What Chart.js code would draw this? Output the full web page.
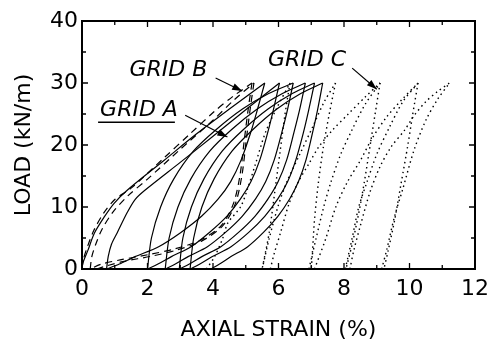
<!DOCTYPE html>
<html>
<head>
<meta charset="utf-8">
<script src="https://cdn.jsdelivr.net/npm/chart.js@4.4.1/dist/chart.umd.min.js"></script>
<style>
  html, body { margin: 0; padding: 0; background: #fff; }
</style>
</head>
<body>
<canvas id="strainChart" width="496" height="339"></canvas>
<script>
// axes
const strainRange = [0, 12];
const loadRange = [0, 40];

// GRID A (solid) - each branch is [strain %, load kN/m]
const gridA = [
  [[0,0],[0.03,1],[0.18,3],[0.38,5.8],[0.68,8.4],[0.98,10.6],[1.38,12.7],[2.5,17.5],[3.5,21.8],[4.5,25.8],[5.58,30]],
  [[5.58,30],[5.35,25.6],[5.15,22],[4.86,17.6],[4.54,14.1],[4.16,11.3],[3.65,8.5],[3.02,5.9],[2.34,3.6],[1.62,2],[1.14,0.8],[0.75,0]],
  [[0.75,0],[0.8,2],[0.9,4],[1.08,5.9],[1.38,9.1],[1.62,11.2],[1.92,12.7],[3,17.2],[4,21.4],[5,25.7],[6.03,30]],
  [[6.03,30],[5.84,25.6],[5.67,22],[5.43,17.6],[5.16,14.1],[4.84,11.3],[4.42,8.5],[3.89,5.9],[3.33,3.6],[2.73,2],[2.32,0.8],[2.0,0]],
  [[2.0,0],[2.12,5],[2.4,10],[2.8,14.5],[3.4,19],[4.1,22.5],[4.9,25.8],[5.7,28.3],[6.45,30]],
  [[6.45,30],[6.27,25.6],[6.1,22],[5.87,17.6],[5.61,14.1],[5.3,11.3],[4.89,8.5],[4.38,5.9],[3.83,3.6],[3.24,2],[2.85,0.8],[2.54,0]],
  [[2.54,0],[2.66,5],[2.93,10],[3.32,14.5],[3.9,19],[4.57,22.5],[5.35,25.8],[6.12,28.3],[6.82,30]],
  [[6.82,30],[6.64,25.6],[6.47,22],[6.25,17.6],[5.99,14.1],[5.68,11.3],[5.28,8.5],[4.78,5.9],[4.24,3.6],[3.66,2],[3.28,0.8],[2.97,0]],
  [[2.97,0],[3.08,5],[3.34,10],[3.72,14.5],[4.28,19],[4.93,22.5],[5.68,25.8],[6.42,28.3],[7.1,30]],
  [[7.1,30],[6.92,25.6],[6.76,22],[6.53,17.6],[6.28,14.1],[5.98,11.3],[5.58,8.5],[5.09,5.9],[4.55,3.6],[3.98,2],[3.6,0.8],[3.3,0]],
  [[3.3,0],[3.41,5],[3.66,10],[4.03,14.5],[4.58,19],[5.22,22.5],[5.95,25.8],[6.68,28.3],[7.35,30]],
  [[7.35,30],[7.19,25.6],[7.04,22],[6.84,17.6],[6.61,14.1],[6.34,11.3],[5.98,8.5],[5.54,5.9],[5.06,3.6],[4.55,2],[4.2,0.8],[3.93,0]]
];

// GRID B (dashed)
const gridB = [
  [[0,0],[0.04,1.5],[0.16,3.5],[0.36,6.2],[0.66,9],[1.0,11.2],[1.49,13],[2.5,17.9],[3.3,21.8],[4.04,25.4],[4.6,27.8],[5.19,30]],
  [[5.19,30],[5.08,26],[4.96,21],[4.82,15],[4.62,10.5],[4.25,7],[3.6,4.6],[2.8,3.2],[2.1,2.4],[1.2,1.5],[0.6,0.8],[0.25,0]],
  [[0.25,0],[0.3,2],[0.42,4],[0.62,6.5],[0.95,9.2],[1.4,11.8],[2.0,14.5],[3.0,19.3],[4.0,24],[4.65,27.3],[5.25,30]],
  [[5.25,30],[5.14,26],[5.02,21],[4.88,15],[4.68,10.5],[4.3,7],[3.65,4.5],[2.85,3.0],[2.15,2.1],[1.25,1.2],[0.75,0.5],[0.45,0]]
];

// GRID C (dotted)
const gridC = [
  [[3.8,0],[4.05,2],[4.3,5],[4.45,7.4],[4.84,10],[5.04,12.7],[5.3,17],[5.6,22],[5.95,26],[6.35,30]],
  [[6.35,30],[6.2,25],[6.05,19],[5.9,13],[5.72,6],[5.5,0]],
  [[5.5,0],[5.72,5],[5.98,10],[6.25,14],[6.65,18.5],[7.05,23],[7.4,27],[7.74,30]],
  [[7.74,30],[7.55,25],[7.38,20],[7.22,14],[7.1,8],[7.04,3],[7.0,0]],
  [[5.75,0],[5.87,2.5],[6.07,6],[6.32,10.5],[6.6,14],[6.93,17],[7.23,19.7],[7.65,22.4],[8.13,25],[8.64,27.7],[9.1,30]],
  [[6.93,0],[7.15,5],[7.38,10],[7.6,14],[7.9,18.5],[8.25,22.5],[8.64,26.5],[9.1,30]],
  [[9.1,30],[8.95,25],[8.8,20],[8.62,14],[8.45,9],[8.25,4],[8.06,0]],
  [[7.1,0],[7.45,5],[7.75,10],[8.1,14],[8.5,17.5],[8.85,21],[9.3,24.5],[9.8,27.5],[10.26,30]],
  [[8.04,0],[8.25,5],[8.45,10],[8.7,14],[9.0,18.5],[9.4,23],[9.8,27],[10.26,30]],
  [[10.26,30],[10.1,25],[9.95,20],[9.75,14],[9.55,8],[9.35,3],[9.22,0]],
  [[8.18,0],[8.3,3],[8.5,7],[8.8,12.5],[9.1,16.5],[9.44,19.7],[9.85,22.4],[10.15,24.8],[10.5,27],[10.85,28.6],[11.22,30]],
  [[9.15,0],[9.3,3],[9.54,8.4],[9.8,13],[10.14,19.2],[10.5,24],[10.85,27.3],[11.22,30]]
];

// labels: [text, strain, load]
const gridLabels = [['GRID B', 2.64, 32.0], ['GRID A', 1.74, 25.6], ['GRID C', 6.87, 33.6]];
// arrows: [fromStrain, fromLoad, toStrain, toLoad]
const gridArrows = [[4.08, 30.8, 4.89, 28.7], [3.15, 24.8, 4.44, 21.3], [8.25, 32.4, 9.0, 29.0]];

const FONT = "'DejaVu Sans', 'Liberation Sans', Arial, sans-serif";

function branchSets(branches, dash, width) {
  return branches.map(b => ({
    data: b.map(p => ({x: p[0], y: p[1]})),
    showLine: true,
    borderColor: '#000',
    borderWidth: width,
    borderDash: dash,
    pointRadius: 0,
    tension: 0.3,
    fill: false
  }));
}

// frame, inward ticks, labels and arrows
const framePlugin = {
  id: 'framePlugin',
  afterDatasetsDraw(chart) {
    const {ctx, chartArea: a, scales: {x, y}} = chart;
    ctx.save();
    ctx.strokeStyle = '#000';
    ctx.fillStyle = '#000';
    ctx.lineWidth = 1.3;
    for (let v = strainRange[0]; v <= strainRange[1]; v++) {
      const px = x.getPixelForValue(v);
      const len = v % 2 === 0 ? 6 : 4;
      ctx.beginPath();
      ctx.moveTo(px, a.bottom); ctx.lineTo(px, a.bottom - len);
      ctx.moveTo(px, a.top); ctx.lineTo(px, a.top + len);
      ctx.stroke();
    }
    for (let v = loadRange[0]; v <= loadRange[1]; v += 5) {
      const py = y.getPixelForValue(v);
      const len = v % 10 === 0 ? 6 : 4;
      ctx.beginPath();
      ctx.moveTo(a.left, py); ctx.lineTo(a.left + len, py);
      ctx.moveTo(a.right, py); ctx.lineTo(a.right - len, py);
      ctx.stroke();
    }
    ctx.lineWidth = 2;
    ctx.strokeRect(a.left, a.top, a.right - a.left, a.bottom - a.top);

    // labels
    ctx.font = 'italic 22px ' + FONT;
    ctx.textAlign = 'center';
    ctx.textBaseline = 'middle';
    gridLabels.forEach(l => {
      const px = x.getPixelForValue(l[1]);
      const py = y.getPixelForValue(l[2]);
      ctx.fillText(l[0], px, py);
      if (l[0] === 'GRID A') {
        const w = ctx.measureText(l[0]).width;
        ctx.lineWidth = 1.6;
        ctx.beginPath();
        ctx.moveTo(px - w / 2 - 2, py + 12);
        ctx.lineTo(px + w / 2 - 3, py + 12);
        ctx.stroke();
      }
    });

    // arrows
    ctx.lineWidth = 1.2;
    gridArrows.forEach(r => {
      const x1 = x.getPixelForValue(r[0]), y1 = y.getPixelForValue(r[1]);
      const x2 = x.getPixelForValue(r[2]), y2 = y.getPixelForValue(r[3]);
      const ang = Math.atan2(y2 - y1, x2 - x1);
      ctx.beginPath();
      ctx.moveTo(x1, y1); ctx.lineTo(x2, y2);
      ctx.stroke();
      ctx.beginPath();
      ctx.moveTo(x2, y2);
      ctx.lineTo(x2 - 10 * Math.cos(ang) + 3.5 * Math.sin(ang), y2 - 10 * Math.sin(ang) - 3.5 * Math.cos(ang));
      ctx.lineTo(x2 - 10 * Math.cos(ang) - 3.5 * Math.sin(ang), y2 - 10 * Math.sin(ang) + 3.5 * Math.cos(ang));
      ctx.closePath();
      ctx.fill();
    });
    ctx.restore();
  }
};

const ctx = document.getElementById('strainChart').getContext('2d');
const strainChart = new Chart(ctx, {
  type: 'scatter',
  data: {
    datasets: [
      ...branchSets(gridA, [], 1.2),
      ...branchSets(gridB, [7, 5], 1.2),
      ...branchSets(gridC, [1.5, 3.5], 1.4)
    ]
  },
  options: {
    responsive: false,
    animation: false,
    devicePixelRatio: 1,
    layout: { padding: { top: 21, right: 14, left: 0, bottom: 0 } },
    plugins: { legend: { display: false }, tooltip: { enabled: false } },
    scales: {
      x: {
        type: 'linear',
        min: strainRange[0],
        max: strainRange[1],
        ticks: { stepSize: 2, color: '#000', padding: 7, font: { size: 22, family: FONT } },
        grid: { display: false, drawTicks: false },
        border: { display: false },
        title: { display: true, text: 'AXIAL STRAIN (%)', color: '#000',
                 font: { size: 22, family: FONT, lineHeight: 0.8 }, padding: { top: 0, bottom: 0 } },
        afterFit: s => { s.height = 70; }
      },
      y: {
        type: 'linear',
        min: loadRange[0],
        max: loadRange[1],
        ticks: { stepSize: 10, color: '#000', padding: 4, font: { size: 22, family: FONT } },
        grid: { display: false, drawTicks: false },
        border: { display: false },
        title: { display: true, text: 'LOAD (kN/m)', color: '#000',
                 font: { size: 22, family: FONT, lineHeight: 0.8 }, padding: { top: 15, bottom: 0 } },
        afterFit: s => { s.width = 82; }
      }
    }
  },
  plugins: [framePlugin]
});
</script>
</body>
</html>
